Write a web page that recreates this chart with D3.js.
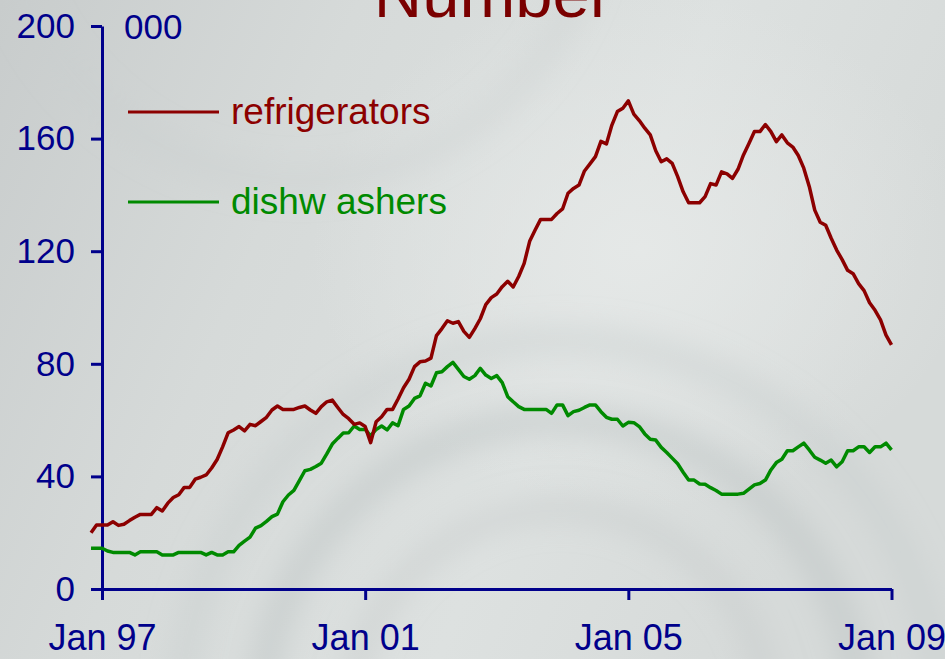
<!DOCTYPE html>
<html>
<head>
<meta charset="utf-8">
<script src="https://cdn.jsdelivr.net/npm/d3@7"></script>
<style>
  body { margin: 0; background: #d5d9d8; }
  svg { display: block; }
  text { font-family: "Liberation Sans", Arial, sans-serif; }
</style>
</head>
<body>
<svg id="chart" width="945" height="659"></svg>
<script>
// monthly values, thousands, Nov 96 .. Jan 09
const startMonth = -2; // Nov 96, counted from Jan 97
const refrigerators = [
  20, 22.7,
  22.7, 22.7, 23.9, 22.6, 23, 24.3, 25.5, 26.5, 26.5, 26.5, 28.9, 27.7,
  30.5, 32.5, 33.5, 36.1, 36.1, 39, 39.7, 40.5, 43, 46, 50.5, 55.5,
  56.5, 57.7, 56.2, 58.5, 58, 59.5, 61, 63.6, 65, 63.8, 63.8, 63.8,
  64.5, 65, 63.6, 62.4, 64.8, 66.5, 67.1, 64.5, 62, 60.5, 58.5, 59,
  57.7, 52, 59.4, 61.2, 63.8, 63.8, 67.5, 71.5, 74.5, 79, 80.7, 81,
  82, 90, 92.5, 95.3, 94.4, 95, 91.5, 89.4, 92.5, 96, 101, 103.5,
  104.8, 107.4, 109.3, 107.3, 111, 115.7, 123.5, 127.5, 131.3, 131.3, 131.3, 133.4,
  135, 140.6, 142.3, 143.5, 148.5, 151, 153.6, 159, 158.1, 164.8, 169.6, 170.8,
  173.4, 168.7, 166.4, 163.7, 161.3, 155.7, 151.8, 152.8, 151.2, 146.5, 141.1, 137.2,
  137.2, 137.2, 139.4, 144, 143.5, 148.2, 147.5, 145.9, 149.1, 154.2, 158.3, 162.5,
  162.5, 165, 162.5, 158.9, 161.3, 158.5, 157, 154, 149.5, 143, 134.6, 130.3,
  129.2, 124.6, 120.4, 117, 113.2, 112, 108.5, 106, 101.7, 99, 95.6, 90.2,
  86.7
];
const dishwashers = [
  14.5, 14.5,
  14.5, 13.5, 13, 13, 13, 13, 12.1, 13.2, 13.2, 13.2, 13.2, 12.1,
  12.1, 12.1, 13, 13, 13, 13, 13, 12.1, 13, 12.1, 12.1, 13.2,
  13.2, 15.5, 17, 18.4, 21.6, 22.5, 24, 25.7, 26.6, 31, 33.4, 35,
  38.5, 42, 42.5, 43.5, 44.7, 48, 51.5, 53.5, 55.4, 55.5, 57.9, 56.7,
  56.7, 54.4, 56.7, 57.9, 56.5, 59, 58, 63.8, 65, 67.7, 68.6, 73.1,
  72.1, 76.8, 77.2, 79, 80.5, 78, 75.5, 74.5, 75.8, 78.4, 76, 74.8,
  75.8, 73.3, 68.3, 66.5, 64.8, 63.8, 63.8, 63.8, 63.8, 63.8, 62.4, 65.4,
  65.4, 61.6, 63, 63.5, 64.5, 65.4, 65.4, 63, 61, 60.3, 60.3, 57.9,
  59.2, 59.1, 57.7, 55.1, 53.2, 52.9, 50.3, 48.5, 46.5, 44.5, 41.5, 38.7,
  38.7, 37.3, 37.2, 36, 35, 33.7, 33.7, 33.7, 33.7, 34, 35.5, 37,
  37.5, 38.7, 42.3, 44.9, 46.1, 49.1, 49.1, 50.5, 51.8, 49.4, 46.8, 45.8,
  44.7, 45.8, 43.4, 45.2, 49.1, 49.1, 50.5, 50.5, 48.5, 50.5, 50.5, 51.8,
  49.4
];
const xTickMonths = [0, 48, 96, 144];
const xTickLabels = ["Jan 97", "Jan 01", "Jan 05", "Jan 09"];
const yTicks = [0, 40, 80, 120, 160, 200];
const seriesNames = ["refrigerators", "dishw ashers"];

const navy = "#00008b";
const red = "#8c0000";
const green = "#008a00";

const svg = d3.select("#chart");
const width = 945, height = 659;

// background with soft swirl
const defs = svg.append("defs");
const bg = defs.append("linearGradient").attr("id", "bg")
    .attr("x1", 0).attr("y1", 0).attr("x2", 1).attr("y2", 0.3);
bg.append("stop").attr("offset", "0%").attr("stop-color", "#c8cccc");
bg.append("stop").attr("offset", "35%").attr("stop-color", "#d6dad9");
bg.append("stop").attr("offset", "70%").attr("stop-color", "#dde1e0");
bg.append("stop").attr("offset", "100%").attr("stop-color", "#d6dad9");

const glow = defs.append("radialGradient").attr("id", "glow");
glow.append("stop").attr("offset", "0%").attr("stop-color", "#e6e9e8").attr("stop-opacity", 0.9);
glow.append("stop").attr("offset", "100%").attr("stop-color", "#e6e9e8").attr("stop-opacity", 0);

defs.append("filter").attr("id", "blur")
    .append("feGaussianBlur").attr("stdDeviation", 14);

svg.append("rect").attr("width", width).attr("height", height).attr("fill", "url(#bg)");
svg.append("ellipse").attr("cx", 640).attr("cy", 250).attr("rx", 330).attr("ry", 260).attr("fill", "url(#glow)");

// swirl bands
const swirl = svg.append("g").attr("filter", "url(#blur)").attr("fill", "none");
[[560, 720, 300, "#b9bebe", 0.45, 28], [560, 720, 210, "#c3c8c8", 0.45, 22], [560, 720, 380, "#c4c8c8", 0.35, 30],
 [300, -120, 300, "#c9cdcd", 0.35, 26]].forEach(([cx, cy, r, c, o, w]) => {
    swirl.append("circle").attr("cx", cx).attr("cy", cy).attr("r", r)
        .attr("stroke", c).attr("stroke-opacity", o).attr("stroke-width", w);
});

const x = d3.scaleLinear().domain([0, 144]).range([102, 891.5]);
const y = d3.scaleLinear().domain([0, 200]).range([589, 26]);

// title (cut off at the top, as in the original slide)
svg.append("text")
    .attr("x", 493).attr("y", 17)
    .attr("text-anchor", "middle")
    .attr("fill", "#7a0000")
    .style("font-size", "67px")
    .text("Number");

svg.append("text")
    .attr("x", 124).attr("y", 39)
    .attr("fill", navy)
    .style("font-size", "35px")
    .text("000");

// axes
const yAxis = svg.append("g")
    .attr("transform", `translate(${x(0)},0)`)
    .call(d3.axisLeft(y).tickValues(yTicks).tickSize(11).tickSizeOuter(0).tickPadding(16));

const xAxis = svg.append("g")
    .attr("transform", `translate(0,${y(0)})`)
    .call(d3.axisBottom(x).tickValues(xTickMonths).tickSize(11).tickSizeOuter(0).tickPadding(24)
        .tickFormat((d, i) => xTickLabels[i]));

[yAxis, xAxis].forEach(g => {
    g.selectAll("path, line").attr("stroke", navy).attr("stroke-width", 3);
    g.selectAll("text").attr("fill", navy).style("font-size", "35px")
        .style("font-family", '"Liberation Sans", Arial, sans-serif');
});
xAxis.selectAll("text").style("font-size", "36px");

// lines
const line = d3.line()
    .x((d, i) => x(i + startMonth))
    .y(d => y(d));

svg.append("path").datum(dishwashers)
    .attr("fill", "none").attr("stroke", green).attr("stroke-width", 3.5)
    .attr("stroke-linejoin", "round")
    .attr("d", line);

svg.append("path").datum(refrigerators)
    .attr("fill", "none").attr("stroke", red).attr("stroke-width", 3.5)
    .attr("stroke-linejoin", "round")
    .attr("d", line);

// legend
const legend = svg.append("g");
[[red, 112], [green, 202]].forEach(([c, ly], i) => {
    legend.append("line")
        .attr("x1", 128).attr("x2", 219).attr("y1", ly).attr("y2", ly)
        .attr("stroke", c).attr("stroke-width", 3);
    legend.append("text")
        .attr("x", 231).attr("y", ly + 12)
        .attr("fill", c)
        .style("font-size", "37px")
        .text(seriesNames[i]);
});
</script>
</body>
</html>
